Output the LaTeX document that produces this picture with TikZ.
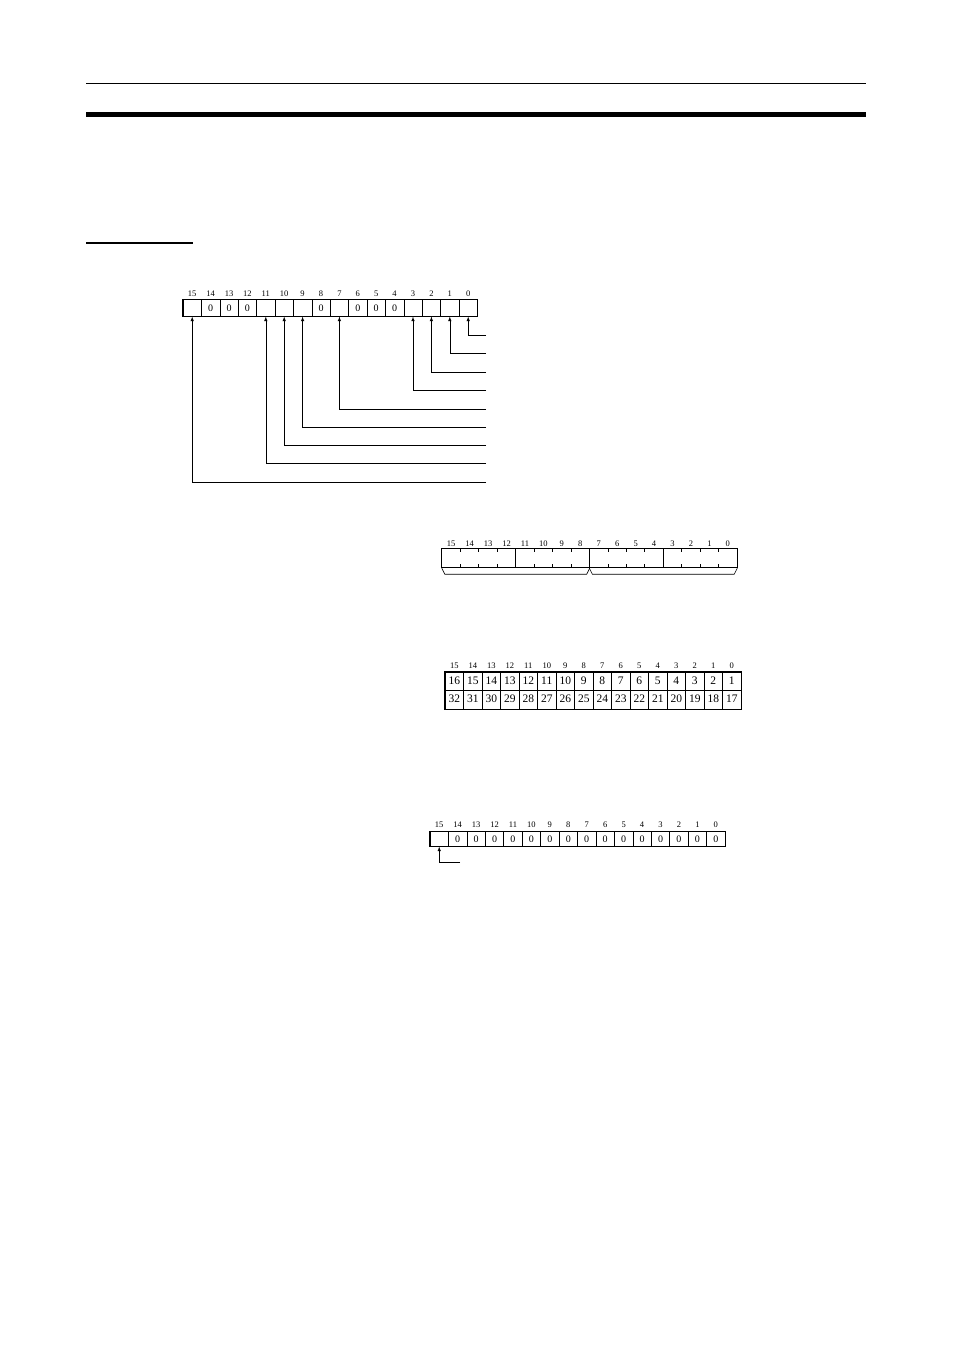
\documentclass[tikz,border=0pt]{standalone}
\usepackage{fontspec}
\setmainfont{Liberation Serif}
\usetikzlibrary{calc, shapes, arrows}

\begin{document}
\begin{tikzpicture}[x=1pt, y=-1pt]
\tikzset{cell/.style={draw, line width=0.6pt, minimum width=18.4pt, minimum height=16.5pt, inner sep=0pt, text height=1.4ex, text depth=0pt, font=\fontsize{10}{11}\selectfont}}
\tikzset{bitnum/.style={inner sep=0pt, font=\fontsize{8.5}{9}\selectfont}}
\tikzset{lead/.style={draw, line width=0.6pt, -latex}}
\tikzset{grp/.style={line width=1.1pt}}
\useasboundingbox (0,0) rectangle (954,1351);

% page rules
\coordinate (tl) at (86,84); \coordinate (tr) at (866,84);
\coordinate (bl) at (86,114.5); \coordinate (br) at (866,114.5);
\coordinate (sl) at (86,243); \coordinate (sr) at (193,243);
\draw[line width=1pt] (tl) -- (tr);
\draw[line width=5pt] (bl) -- (br);
\draw[line width=1.2pt] (sl) -- (sr);

% register with flags
\foreach \b/\v [evaluate=\b as \cx using 183+(15.5-\b)*18.4] in
  {15/{},14/0,13/0,12/0,11/{},10/{},9/{},8/0,7/{},6/0,5/0,4/0,3/{},2/{},1/{},0/{}}{
  \node[cell] (r\b) at (\cx,308) {\v};
  \node[bitnum] (nr\b) at (\cx,294) {\b};
}
\draw[grp] (r15.north west) rectangle (r0.south east);
\foreach \b in {12,8,4}
  \draw[grp] (r\b.north east) -- (r\b.south east);
\foreach \b/\y in {0/335,1/353,2/372,3/390,7/409,9/427,10/445,11/463,15/482}{
  \coordinate (e\b) at (486,\y);
  \draw[lead] (e\b) -| (r\b.south);
}

% word split in bytes
\foreach \b [evaluate=\b as \cx using 442+(15.5-\b)*18.44] in {15,...,0}{
  \node[minimum width=18.44pt, minimum height=18pt, inner sep=0pt] (w\b) at (\cx,558) {};
  \node[bitnum] (nw\b) at (\cx,544) {\b};
}
\draw[grp] (w15.north west) rectangle (w0.south east);
\foreach \b in {11,7,3}
  \draw[grp] (w\b.north west) -- (w\b.south west);
\foreach \b in {14,13,12,10,9,8,6,5,4,2,1,0}{
  \draw[line width=0.5pt] (w\b.north west) -- ++(0,3);
  \draw[line width=0.5pt] (w\b.south west) -- ++(0,-3);
}
\draw[line width=0.6pt] ($(w15.south west)+(0,1)$) -- ++(3,6) -- ($(w8.south east)+(-3,7)$) -- ($(w8.south east)+(0,1)$);
\draw[line width=0.6pt] ($(w7.south west)+(0,1)$) -- ++(3,6) -- ($(w0.south east)+(-3,7)$) -- ($(w0.south east)+(0,1)$);

% two rows of numbers
\foreach \b [evaluate=\b as \cx using 445+(15.5-\b)*18.5,
             evaluate=\b as \up using int(\b+1),
             evaluate=\b as \dn using int(\b+17)] in {15,...,0}{
  \node[cell, minimum width=18.5pt, minimum height=18.5pt, font=\fontsize{11.5}{12}\selectfont] (u\b) at (\cx,681.25) {\up};
  \node[cell, minimum width=18.5pt, minimum height=18.5pt, font=\fontsize{11.5}{12}\selectfont] (d\b) at (\cx,699.75) {\dn};
  \node[bitnum] (nu\b) at (\cx,666) {\b};
}
\draw[grp] (u15.north west) rectangle (d0.south east);
\foreach \b in {12,8,4}
  \draw[grp] (u\b.north east) -- (d\b.south east);

% sign bit
\foreach \b/\v [evaluate=\b as \cx using 430+(15.5-\b)*18.44] in
  {15/{},14/0,13/0,12/0,11/0,10/0,9/0,8/0,7/0,6/0,5/0,4/0,3/0,2/0,1/0,0/0}{
  \node[cell, minimum width=18.44pt, minimum height=14.5pt] (z\b) at (\cx,839) {\v};
  \node[bitnum] (nz\b) at (\cx,825) {\b};
}
\draw[grp] (z15.north west) rectangle (z0.south east);
\coordinate (ez) at (460,862);
\draw[lead] (ez) -| (z15.south);
\end{tikzpicture}
\end{document}
